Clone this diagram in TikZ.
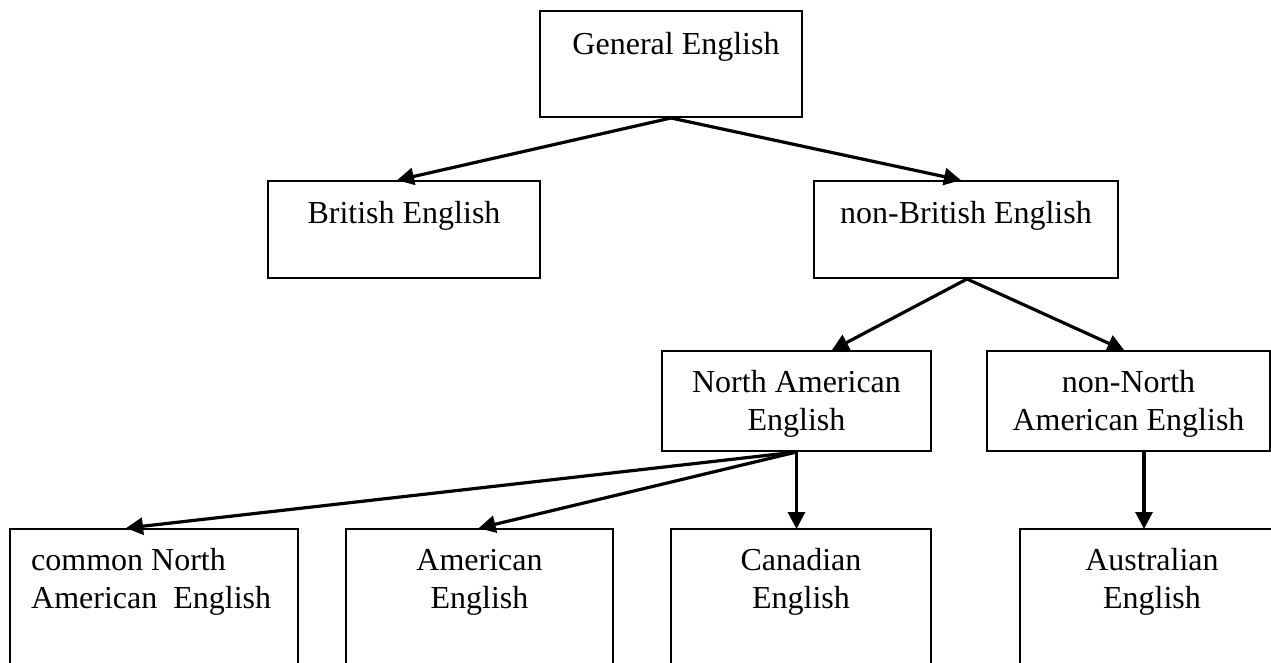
\documentclass[tikz,border=0pt]{standalone}
\usepackage{fontspec}
\setmainfont{Liberation Serif}
\usetikzlibrary{arrows.meta,calc}
\tikzset{
  boxnode/.style={draw=black, line width=2pt, rectangle, inner sep=0pt, fill=white},
  txt/.style={anchor=north, inner sep=0pt, align=center, font=\fontsize{32}{38}\selectfont},
  arr/.style={line width=3.2pt, -{Triangle[length=17pt,width=17pt]}, shorten >=-1pt}
}
\begin{document}
\begin{tikzpicture}[x=1pt, y=-1pt]
\clip (0,0) rectangle (1271,663);
\fill[white] (0,0) rectangle (1271,663);
% boxes
\node[boxnode, minimum width=262pt, minimum height=106pt] (ge) at (671,64) {};
\node[boxnode, minimum width=272pt, minimum height=97pt] (be) at (404,229.5) {};
\node[boxnode, minimum width=304pt, minimum height=97pt] (nbe) at (966,229.5) {};
\node[boxnode, minimum width=269pt, minimum height=100pt] (nae) at (796.5,401) {};
\node[boxnode, minimum width=283pt, minimum height=100pt] (nnae) at (1128.5,401) {};
\node[boxnode, minimum width=288pt, minimum height=150pt] (cnae) at (154,604) {};
\node[boxnode, minimum width=267pt, minimum height=150pt] (ae) at (479.5,604) {};
\node[boxnode, minimum width=260pt, minimum height=150pt] (ce) at (801,604) {};
\node[boxnode, minimum width=264pt, minimum height=150pt] (aue) at (1152,604) {};
% texts
\node[txt] (tge) at ($(ge.north)+(5,18)$) {\strut General English};
\node[txt] (tbe) at ($(be.north)+(0,17)$) {\strut British English};
\node[txt] (tnbe) at ($(nbe.north)+(0,17)$) {\strut non-British English};
\node[txt] (tnae) at ($(nae.north)+(0,16)$) {\strut North American\\\strut English};
\node[txt] (tnnae) at ($(nnae.north)+(0,16)$) {\strut non-North\\\strut American English};
\node[txt, anchor=north west, align=left] (tcnae) at ($(cnae.north west)+(22,16)$) {\strut common North\\\strut American\ \ English};
\node[txt] (tae) at ($(ae.north)+(0,16)$) {\strut American\\\strut English};
\node[txt] (tce) at ($(ce.north)+(0,16)$) {\strut Canadian\\\strut English};
\node[txt] (taue) at ($(aue.north)+(0,16)$) {\strut Australian\\\strut English};
% connector end points
\coordinate (nnaeout) at ($(nnae.south)+(15.5,0)$);
\coordinate (aurin) at (nnaeout |- aue.north);
% connectors
\draw[arr] (ge.south) -- ($(be.north)+(-6,0)$);
\draw[arr] (ge.south) -- ($(nbe.north)+(-6,0)$);
\draw[arr] ($(nbe.south)+(1,0)$) -- ($(nae.north)+(36,0)$);
\draw[arr] ($(nbe.south)+(1,0)$) -- ($(nnae.north)+(-5,0)$);
\draw[arr] (nae.south) -- ($(cnae.north)+(-27,0)$);
\draw[arr] (nae.south) -- (ae.north);
\draw[arr] (nae.south) -- (nae.south |- ce.north);
\draw[arr] (nnaeout) -- (aurin);
\end{tikzpicture}
\end{document}
